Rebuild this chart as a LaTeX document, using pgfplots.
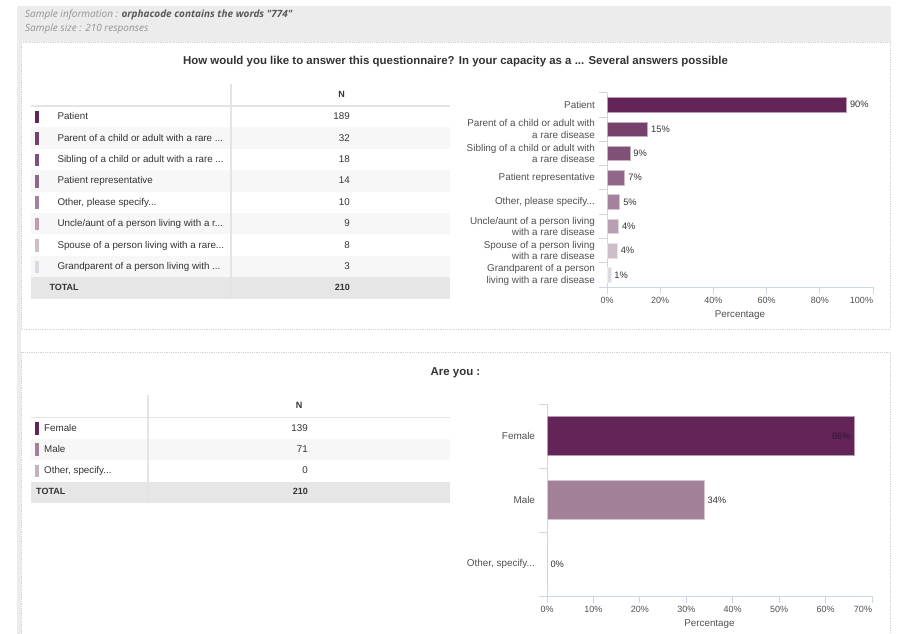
\documentclass[border=0pt]{standalone}
\usepackage{pgfplots}
\pgfplotsset{compat=1.18}
\usepackage{fontspec}
\setmainfont{Liberation Sans}
\newfontfamily\opensans{Open Sans}
\definecolor{c1}{RGB}{99,36,87}
\definecolor{c2}{RGB}{117,64,107}
\definecolor{c3}{RGB}{128,80,119}
\definecolor{c4}{RGB}{145,103,137}
\definecolor{c5}{RGB}{164,130,158}
\definecolor{c6}{RGB}{184,159,178}
\definecolor{c7}{RGB}{205,190,202}
\definecolor{c8}{RGB}{222,217,224}
\definecolor{mal}{RGB}{161,128,152}
\definecolor{oth}{RGB}{196,176,191}
\definecolor{axline}{RGB}{204,214,235}
\definecolor{lbl}{RGB}{80,80,80}
\definecolor{txt}{RGB}{51,51,51}
\definecolor{hdr}{RGB}{236,236,236}
\definecolor{rowg}{RGB}{247,247,247}
\definecolor{totg}{RGB}{230,230,230}
\definecolor{divg}{RGB}{228,228,228}
\newcommand\dotsx{...}
\newcommand\tfont{\fontsize{9.8}{11}\selectfont}
\newcommand\lfont{\fontsize{9.9}{11.4}\selectfont}
\newcommand\sw[2]{\fill[#1] (35,{-(#2)-6.3}) rectangle (38.5,{-(#2)+6.3});}
\begin{document}
\begin{tikzpicture}[x=1pt,y=1pt]
\useasboundingbox (0,0) rectangle (899,-634);
\fill[white] (0,0) rectangle (899,-634);
% header band and left strip
\fill[hdr] (17,-6) rectangle (891,-42);
\fill[hdr] (17,-42) rectangle (21,-634);
% panels
\draw[gray!35, densely dotted, line width=0.8pt] (21,-42) rectangle (890,-329);
\draw[gray!35, densely dotted, line width=0.8pt] (21,-634) -- (21,-352) -- (890,-352) -- (890,-634);
% header text
\node[anchor=mid west, inner sep=0, font=\opensans\itshape\fontsize{10}{11}\selectfont, text=gray!85] at (25,-14.5) {Sample information : {\bfseries\color{gray!70!black}orphacode contains the words "774"}};
\node[anchor=mid west, inner sep=0, font=\opensans\itshape\fontsize{10}{11}\selectfont, text=gray!85] at (25,-28.5) {Sample size : 210 responses};
% titles
\node[font=\bfseries\fontsize{11.45}{13}\selectfont, text=txt] at (455.5,-62) {How would you like to answer this questionnaire? In your capacity as a \dotsx{} Several answers possible};
\node[font=\bfseries\fontsize{11.45}{13}\selectfont, text=txt] at (455.5,-373) {Are you :};
% ---------- table 1 ----------
\fill[rowg] (31,-127.4) rectangle (450,-148.8);
\fill[rowg] (31,-170.2) rectangle (450,-191.6);
\fill[rowg] (31,-213.0) rectangle (450,-234.4);
\fill[rowg] (31,-255.8) rectangle (450,-277.2);
\fill[totg] (31,-277.2) rectangle (450,-298.6);
\draw[divg, line width=1.2pt] (31,-106) -- (450,-106);
\draw[divg, line width=1.6pt] (231,-84) -- (231,-298.6);
\node[font=\bfseries\fontsize{9}{10}\selectfont, text=txt] at (341.7,-94) {N};
\sw{c1}{117.1}\sw{c2}{138.5}\sw{c3}{159.9}\sw{c4}{181.3}\sw{c5}{202.7}\sw{c6}{224.1}\sw{c7}{245.5}\sw{c8}{266.9}
\begin{scope}[every node/.style={anchor=mid west, inner sep=0, font=\tfont, text=txt}]
\node at (57.3,-117.1) {Patient};
\node at (57.3,-138.5) {Parent of a child or adult with a rare \dotsx};
\node at (57.3,-159.9) {Sibling of a child or adult with a rare \dotsx};
\node at (57.3,-181.3) {Patient representative};
\node at (57.3,-202.7) {Other, please specify\dotsx};
\node at (57.3,-224.1) {Uncle/aunt of a person living with a r\dotsx};
\node at (57.3,-245.5) {Spouse of a person living with a rare\dotsx};
\node at (57.3,-266.9) {Grandparent of a person living with \dotsx};
\node[font=\bfseries\fontsize{9}{10}\selectfont] at (49.3,-287.9) {TOTAL};
\end{scope}
\begin{scope}[every node/.style={anchor=mid east, inner sep=0, font=\tfont, text=txt}]
\node at (350,-117.1) {189};
\node at (350,-138.5) {32};
\node at (350,-159.9) {18};
\node at (350,-181.3) {14};
\node at (350,-202.7) {10};
\node at (350,-224.1) {9};
\node at (350,-245.5) {8};
\node at (350,-266.9) {3};
\node[font=\bfseries\fontsize{9}{10}\selectfont] at (350,-287.9) {210};
\end{scope}
% ---------- table 2 ----------
\fill[rowg] (31,-439.0) rectangle (450,-460.3);
\fill[totg] (31,-481.6) rectangle (450,-503);
\draw[divg, line width=1.2pt] (31,-417.7) -- (450,-417.7);
\draw[divg, line width=1.6pt] (148,-395) -- (148,-503);
\node[font=\bfseries\fontsize{9}{10}\selectfont, text=txt] at (299,-405.7) {N};
\sw{c1}{428.4}\sw{mal}{449.7}\sw{oth}{471}
\begin{scope}[every node/.style={anchor=mid west, inner sep=0, font=\tfont, text=txt}]
\node at (44,-428.4) {Female};
\node at (44,-449.7) {Male};
\node at (44,-471) {Other, specify\dotsx};
\node[font=\bfseries\fontsize{9}{10}\selectfont] at (36,-492.3) {TOTAL};
\end{scope}
\begin{scope}[every node/.style={anchor=mid east, inner sep=0, font=\tfont, text=txt}]
\node at (308,-428.4) {139};
\node at (308,-449.7) {71};
\node at (308,-471) {0};
\node[font=\bfseries\fontsize{9}{10}\selectfont] at (308,-492.3) {210};
\end{scope}
% ---------- chart 1 ----------
\begin{axis}[
  at={(607pt,-287pt)}, anchor=south west,
  scale only axis, width=266pt, height=194.4pt,
  xmin=0, xmax=100, ymin=-0.5, ymax=7.5, y dir=reverse,
  xbar, bar width=14.5pt,
  axis x line*=bottom, axis y line*=left,
  axis line style={draw=axline, line width=0.8pt},
  tick align=outside,
  xtick={0,20,40,60,80,100},
  xticklabels={0\%,20\%,40\%,60\%,80\%,\llap{100\%}},
  xtick style={draw=axline, line width=0.8pt},
  major tick length=7pt,
  ytick={0,1,2,3,4,5,6,7},
  ytick style={draw=none},
  minor ytick={-0.5,0.5,1.5,2.5,3.5,4.5,5.5,6.5,7.5},
  minor y tick style={draw=axline, line width=0.8pt},
  minor tick length=8pt,
  yticklabels={Patient,{Parent of a child or adult with\\a rare disease},{Sibling of a child or adult with\\a rare disease},Patient representative,{Other, please specify\dotsx},{Uncle/aunt of a person living\\with a rare disease},{Spouse of a person living\\with a rare disease},{Grandparent of a person\\living with a rare disease}},
  yticklabel style={font=\lfont, text=lbl, align=right, xshift=-1.5pt},
  xticklabel style={font=\fontsize{9}{10}\selectfont, text=lbl},
  xlabel={Percentage},
  xlabel style={font=\fontsize{9.8}{11}\selectfont, text=lbl},
  point meta=x,
  nodes near coords={\pgfmathprintnumber[assume math mode=true,fixed,precision=0]{\pgfplotspointmeta}\%},
  every node near coord/.append style={font=\fontsize{9.3}{10}\selectfont, text=txt},
  clip=false,
]
\addplot[fill=c1, draw=c1!45!white, line width=0.6pt, bar shift=0pt] coordinates {(90.000,0)};
\addplot[fill=c2, draw=c2!45!white, line width=0.6pt, bar shift=0pt] coordinates {(15.238,1)};
\addplot[fill=c3, draw=c3!45!white, line width=0.6pt, bar shift=0pt] coordinates {(8.571,2)};
\addplot[fill=c4, draw=c4!45!white, line width=0.6pt, bar shift=0pt] coordinates {(6.667,3)};
\addplot[fill=c5, draw=c5!45!white, line width=0.6pt, bar shift=0pt] coordinates {(4.762,4)};
\addplot[fill=c6, draw=c6!45!white, line width=0.6pt, bar shift=0pt] coordinates {(4.286,5)};
\addplot[fill=c7, draw=c7!45!white, line width=0.6pt, bar shift=0pt] coordinates {(3.810,6)};
\addplot[fill=c8, draw=c8!45!white, line width=0.6pt, bar shift=0pt] coordinates {(1.429,7)};
\end{axis}
% ---------- chart 2 ----------
\begin{axis}[
  at={(547pt,-596pt)}, anchor=south west,
  scale only axis, width=325pt, height=192pt,
  xmin=0, xmax=70, ymin=-0.5, ymax=2.5, y dir=reverse,
  xbar, bar width=39pt,
  axis x line*=bottom, axis y line*=left,
  axis line style={draw=axline, line width=0.8pt},
  tick align=outside,
  xtick={0,10,20,30,40,50,60,70},
  xticklabels={0\%,10\%,20\%,30\%,40\%,50\%,60\%,\llap{70\%}},
  xtick style={draw=axline, line width=0.8pt},
  major tick length=7pt,
  ytick={0,1,2},
  ytick style={draw=none},
  minor ytick={-0.5,0.5,1.5,2.5},
  minor y tick style={draw=axline, line width=0.8pt},
  minor tick length=8pt,
  yticklabels={Female,Male,{Other, specify\dotsx}},
  yticklabel style={font=\lfont, text=lbl, align=right, xshift=-1.5pt},
  xticklabel style={font=\fontsize{9}{10}\selectfont, text=lbl},
  xlabel={Percentage},
  xlabel style={font=\fontsize{9.8}{11}\selectfont, text=lbl},
  point meta=x,
  nodes near coords={\pgfmathprintnumber[assume math mode=true,fixed,precision=0]{\pgfplotspointmeta}\%},
  every node near coord/.append style={font=\fontsize{9.3}{10}\selectfont, text=txt},
  clip=false,
]
\addplot[fill=c1, draw=c1!45!white, line width=0.6pt, bar shift=0pt,
  every node near coord/.append style={anchor=east, text={rgb,255:red,52;green,22;blue,48}}] coordinates {(66.190,0)};
\addplot[fill=mal, draw=mal!45!white, line width=0.6pt, bar shift=0pt] coordinates {(33.810,1)};
\addplot[fill=oth, draw=none, bar shift=0pt] coordinates {(0,2)};
\end{axis}
\end{tikzpicture}
\end{document}
